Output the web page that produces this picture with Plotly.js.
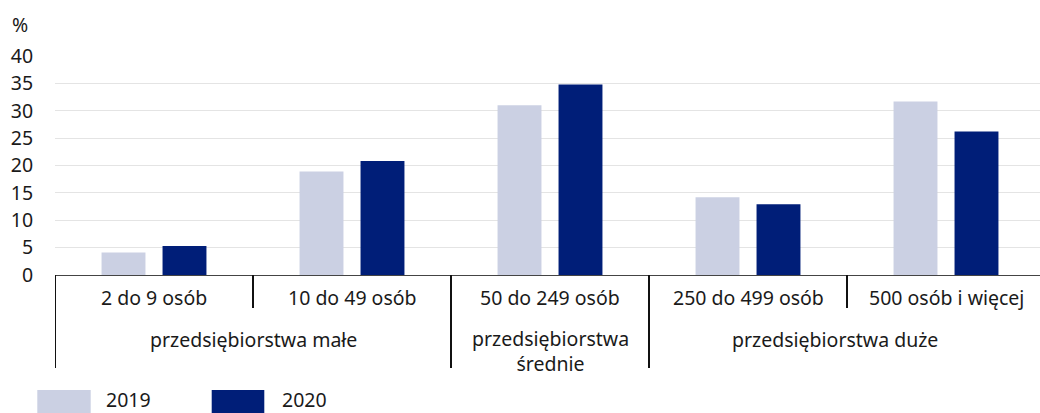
<!DOCTYPE html>
<html>
<head>
<meta charset="utf-8">
<script src="https://cdn.plot.ly/plotly-3.0.1.min.js"></script>
<style>html,body{margin:0;padding:0;overflow:hidden;background:#fff;}</style>
</head>
<body>
<div id="chart" style="width:1040px;height:413px;"></div>
<script>
// ---- data ----
const categories = ["2 do 9 osób", "10 do 49 osób", "50 do 249 osób", "250 do 499 osób", "500 osób i więcej"];
const groupLabels = ["przedsiębiorstwa małe", "przedsiębiorstwa<br>średnie", "przedsiębiorstwa duże"];
const seriesNames = ["2019", "2020"];
const values2019 = [4.1, 18.9, 31.0, 14.2, 31.7];
const values2020 = [5.3, 20.8, 34.8, 12.9, 26.2];
const yTicks = [0, 5, 10, 15, 20, 25, 30, 35, 40];
const unitLabel = "%";

// ---- layout helpers ----
const W = 1040, H = 413;
const M = {l: 55, r: 0, t: 56, b: 138};
const PW = W - M.l - M.r, PH = H - M.t - M.b;
const px2x = p => (p - M.l) / PW;
const py2y = p => (H - M.b - p) / PH;

const colors = ["#cbd0e3", "#001e78"];
const font = "'Noto Sans', 'Open Sans', sans-serif";
const fs = 19.5;
const txt = "#1a1a1a";

const idx = categories.map((c, i) => i);
const traces = [values2019, values2020].map((v, k) => ({
  type: "bar",
  x: idx,
  y: v,
  name: seriesNames[k],
  marker: {color: colors[k], line: {width: 0}},
  showlegend: false,
  hoverinfo: "y+name"
}));

const shapes = [];
const annotations = [];
// dividers: tall ones at group boundaries, short ones between categories in a group
const groupStarts = [0, 2, 3];
idx.forEach(i => {
  const tall = groupStarts.includes(i);
  shapes.push({type: "line", xref: "x", yref: "paper", x0: i - 0.5, x1: i - 0.5,
    y0: 0, y1: tall ? py2y(368) : py2y(308), line: {color: "#111", width: 2}});
});
// category labels
categories.forEach((c, i) => annotations.push({
  xref: "x", yref: "paper", x: i, y: py2y(297), text: c, showarrow: false,
  xanchor: "center", yanchor: "middle", font: {family: font, size: fs, color: txt}
}));
// group labels
const groupX = [0.5, 2, 3.44];
const groupY = [py2y(339), py2y(351), py2y(339)];
groupLabels.forEach((g, i) => annotations.push({
  xref: "x", yref: "paper", x: groupX[i], y: groupY[i], text: g, showarrow: false,
  xanchor: "center", yanchor: "middle", align: "center",
  font: {family: font, size: fs, color: txt}
}));
// unit label
annotations.push({xref: "paper", yref: "paper", x: px2x(10), y: py2y(24), text: unitLabel,
  showarrow: false, xanchor: "left", yanchor: "middle", font: {family: font, size: fs, color: txt}});
// legend (custom wide swatches)
const legBox = [[37.3, 90.7], [211.7, 264.3]];
const legTxt = [104, 279.7];
seriesNames.forEach((n, k) => {
  shapes.push({type: "rect", xref: "paper", yref: "paper",
    x0: px2x(legBox[k][0]), x1: px2x(legBox[k][1]), y0: py2y(390), y1: py2y(425),
    fillcolor: colors[k], line: {width: 0}});
  annotations.push({xref: "paper", yref: "paper", x: px2x(legTxt[k]), y: py2y(399.5), text: n,
    showarrow: false, xanchor: "left", yanchor: "middle", font: {family: font, size: fs, color: txt}});
});

const layout = {
  width: W, height: H,
  margin: M,
  paper_bgcolor: "#fff", plot_bgcolor: "#fff",
  barmode: "group", bargap: 0.384, bargroupgap: 0.28,
  font: {family: font, size: fs, color: txt},
  xaxis: {
    type: "linear", range: [-0.5, -0.5 + PW / 198], showgrid: false, zeroline: false,
    showline: true, linecolor: "#444", linewidth: 1.2, showticklabels: false, ticks: "",
    fixedrange: true
  },
  yaxis: {
    range: [0, 40], tickvals: yTicks, showgrid: true, gridcolor: "#e4e4e4", gridwidth: 1,
    zeroline: false, showline: false, ticks: "outside", ticklen: 17, tickcolor: "rgba(0,0,0,0)",
    tickfont: {family: font, size: fs, color: txt}, fixedrange: true
  },
  shapes: shapes,
  annotations: annotations
};

Plotly.newPlot("chart", traces, layout, {displayModeBar: false, staticPlot: true});
</script>
</body>
</html>
